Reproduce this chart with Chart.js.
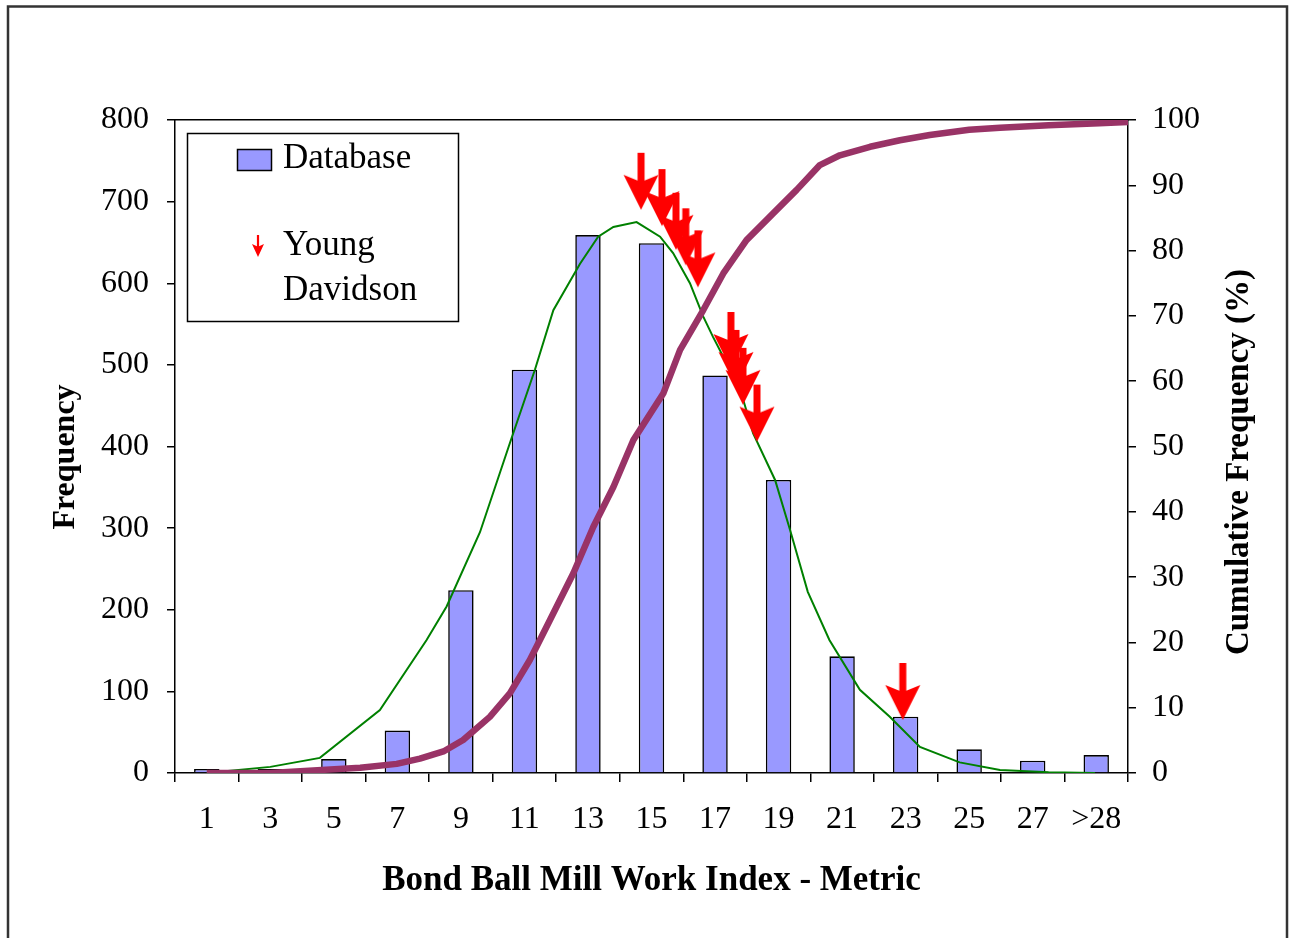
<!DOCTYPE html>
<html>
<head>
<meta charset="utf-8">
<script src="https://cdn.jsdelivr.net/npm/chart.js@4.4.1/dist/chart.umd.min.js"></script>
<style>
  html, body { margin: 0; padding: 0; background: #fff; }
  canvas { display: block; }
</style>
</head>
<body>
<canvas id="chart" width="1292" height="938"></canvas>
<script>
// Histogram classes (Bond ball mill work index, kWh/t) and counts
const categories = ['1', '3', '5', '7', '9', '11', '13', '15', '17', '19', '21', '23', '25', '27', '>28'];
const frequency = [5, 5, 17, 52, 224, 494, 659, 649, 487, 359, 143, 69, 29, 15, 22];

// Fitted distribution curve (work index, frequency)
const fitWI = [1, 3, 4.56, 6.45, 7.92, 8.55, 9.6, 10.54, 11.33, 11.91, 12.75, 13.32, 13.8, 14.53, 15.27, 15.68, 16.21, 16.63, 16.94, 17.47, 17.89, 18.2, 18.89, 19.36, 19.92, 20.6, 21.56, 22.5, 23.45, 24.7, 25.97, 27.5, 28.96];
const fitFreq = [0, 7.5, 18.5, 77, 163, 204, 295, 404, 494, 567, 624, 657, 669, 675, 657, 637, 600, 559, 534, 494, 457, 416, 359, 298, 222, 163, 102, 69, 32, 13, 3.7, 1, 0];

// Cumulative frequency (work index, percent)
const cumWI = [1, 3, 4.35, 5.83, 6.98, 7.71, 8.45, 9.07, 9.91, 10.54, 11.17, 11.8, 12.54, 13.17, 13.8, 14.43, 15.37, 15.9, 16.63, 17.26, 17.99, 18.83, 19.57, 20.3, 20.93, 21.88, 22.82, 23.76, 25, 25.97, 27.5, 29.1, 30];
const cumPct = [0, 0, 0.4, 0.8, 1.4, 2.2, 3.3, 5.05, 8.6, 12.2, 17.3, 23.4, 30.6, 37.7, 43.8, 51, 58.1, 64.8, 70.9, 76.5, 81.6, 85.7, 89.3, 93.1, 94.6, 95.9, 96.9, 97.7, 98.5, 98.8, 99.2, 99.5, 99.7];

// Young Davidson samples (work index, frequency position of arrow tip)
const ydWI = [14.67, 15.33, 15.77, 16.08, 16.46, 17.50, 17.66, 17.88, 18.32, 22.91];
const ydFreq = [690, 670, 641, 622, 595, 495, 473, 451, 406, 65];

const SERIF = "'Liberation Serif', 'Times New Roman', serif";
const BAR_FILL = '#9999FF';
const FIT_COLOR = '#008000';
const CUM_COLOR = '#993366';
const ARROW_COLOR = '#FF0000';

// Down arrow path: tip at (cx, tip)
function arrowPath(ctx, cx, top, tip, shaftW, headW, headH) {
  ctx.beginPath();
  ctx.moveTo(cx - shaftW / 2, top);
  ctx.lineTo(cx + shaftW / 2, top);
  ctx.lineTo(cx + shaftW / 2, tip - headH + 6 * headH / 36);
  ctx.lineTo(cx + headW / 2, tip - headH);
  ctx.lineTo(cx, tip);
  ctx.lineTo(cx - headW / 2, tip - headH);
  ctx.lineTo(cx - shaftW / 2, tip - headH + 6 * headH / 36);
  ctx.closePath();
}

// Point marker image: arrow whose tip sits at the image centre
function makeArrowMarker() {
  const c = document.createElement('canvas');
  c.width = 40;
  c.height = 118;
  const g = c.getContext('2d');
  g.fillStyle = ARROW_COLOR;
  arrowPath(g, 20, 2, 59, 7, 35, 35);
  g.fill();
  return c;
}
const arrowMarker = makeArrowMarker();

// White page with the outer frame
const framePlugin = {
  id: 'frame',
  beforeDraw(chart) {
    const ctx = chart.ctx;
    ctx.save();
    ctx.fillStyle = '#fff';
    ctx.fillRect(0, 0, chart.width, chart.height);
    ctx.strokeStyle = '#333';
    ctx.lineWidth = 2.5;
    ctx.beginPath();
    ctx.moveTo(8, chart.height + 2);
    ctx.lineTo(8, 6.5);
    ctx.lineTo(1287, 6.5);
    ctx.lineTo(1287, chart.height + 2);
    ctx.stroke();
    ctx.restore();
  }
};

// Legend box, left and right axis titles
const annotatePlugin = {
  id: 'annotate',
  afterDraw(chart) {
    const ctx = chart.ctx;
    ctx.save();
    // legend box
    ctx.fillStyle = '#fff';
    ctx.fillRect(187.5, 133.5, 271, 188);
    ctx.strokeStyle = '#000';
    ctx.lineWidth = 1.5;
    ctx.strokeRect(187.5, 133.5, 271, 188);
    // bar swatch
    ctx.fillStyle = BAR_FILL;
    ctx.fillRect(237.5, 149.5, 34, 21);
    ctx.strokeRect(237.5, 149.5, 34, 21);
    // small arrow
    ctx.fillStyle = ARROW_COLOR;
    arrowPath(ctx, 258, 235, 257, 2.2, 12, 13);
    ctx.fill();
    // legend text
    ctx.fillStyle = '#000';
    ctx.font = '35px ' + SERIF;
    ctx.textAlign = 'left';
    ctx.textBaseline = 'alphabetic';
    ctx.fillText(chart.data.datasets[0].label, 283, 168);
    ctx.fillText('Young', 283, 255);
    ctx.fillText('Davidson', 283, 300);

    ctx.textAlign = 'center';
    ctx.textBaseline = 'middle';
    // left axis title
    ctx.save();
    ctx.translate(66, 457);
    ctx.rotate(-Math.PI / 2);
    ctx.font = 'bold 32px ' + SERIF;
    ctx.fillText('Frequency', 0, 0);
    ctx.restore();
    // right axis title, reading bottom to top
    ctx.translate(1239, 462);
    ctx.rotate(-Math.PI / 2);
    ctx.font = 'bold 33px ' + SERIF;
    ctx.fillText('Cumulative Frequency (%)', 0, 0);
    ctx.restore();
  }
};

const toXY = (xs, ys) => xs.map((x, i) => ({ x: x, y: ys[i] }));

const tickFont = { family: SERIF, size: 32 };

new Chart(document.getElementById('chart'), {
  type: 'bar',
  data: {
    labels: categories,
    datasets: [
      {
        label: 'Database',
        type: 'bar',
        data: frequency,
        xAxisID: 'x',
        yAxisID: 'y',
        backgroundColor: BAR_FILL,
        borderColor: '#000',
        borderWidth: 1.6,
        barPercentage: 0.4,
        categoryPercentage: 1,
        grouped: false,
        order: 4
      },
      {
        label: 'Normal fit',
        type: 'line',
        data: toXY(fitWI, fitFreq),
        xAxisID: 'x2',
        yAxisID: 'y',
        borderColor: FIT_COLOR,
        borderWidth: 2,
        pointRadius: 0,
        tension: 0,
        fill: false,
        order: 3
      },
      {
        label: 'Cumulative',
        type: 'line',
        data: toXY(cumWI, cumPct),
        xAxisID: 'x2',
        yAxisID: 'y2',
        borderColor: CUM_COLOR,
        borderWidth: 6.5,
        borderJoinStyle: 'round',
        pointRadius: 0,
        tension: 0,
        fill: false,
        order: 2
      },
      {
        label: 'Young Davidson',
        type: 'scatter',
        data: toXY(ydWI, ydFreq),
        xAxisID: 'x2',
        yAxisID: 'y',
        pointStyle: arrowMarker,
        pointRadius: 20,
        showLine: false,
        clip: false,
        order: 1
      }
    ]
  },
  options: {
    responsive: false,
    animation: false,
    events: [],
    layout: { padding: 0 },
    plugins: {
      legend: { display: false },
      tooltip: { enabled: false },
      title: { display: false }
    },
    scales: {
      x: {
        type: 'category',
        position: 'bottom',
        offset: true,
        grid: { offset: true, drawOnChartArea: false, drawTicks: true, tickLength: 9, color: '#000', lineWidth: 1.5 },
        border: { display: true, color: '#000', width: 1.5 },
        ticks: { color: '#000', font: tickFont, padding: 18, maxRotation: 0, autoSkip: false },
        title: {
          display: true,
          text: 'Bond Ball Mill Work Index - Metric',
          color: '#000',
          font: { family: SERIF, size: 35, weight: 'bold' },
          padding: { top: 0, bottom: 36 }
        },
        afterFit(s) { s.height = 165; }
      },
      x2: {
        type: 'linear',
        position: 'top',
        min: 0,
        max: 30,
        offset: false,
        grid: { display: true, offset: false, drawOnChartArea: false, drawTicks: false, color: '#000' },
        border: { display: true, color: '#000', width: 1.5 },
        ticks: { display: false },
        afterFit(s) { s.height = 120; }
      },
      y: {
        type: 'linear',
        position: 'left',
        min: 0,
        max: 800,
        grid: { drawOnChartArea: false, drawTicks: true, tickLength: 8, color: '#000', lineWidth: 1.5 },
        border: { display: true, color: '#000', width: 1.5 },
        ticks: { stepSize: 100, color: '#000', font: tickFont, padding: 18 },
        afterFit(s) { s.width = 175; }
      },
      y2: {
        type: 'linear',
        position: 'right',
        min: 0,
        max: 100,
        grid: { drawOnChartArea: false, drawTicks: true, tickLength: 8, color: '#000', lineWidth: 1.5 },
        border: { display: true, color: '#000', width: 1.5 },
        ticks: { stepSize: 10, color: '#000', font: tickFont, padding: 16 },
        afterFit(s) { s.width = 164; }
      }
    }
  },
  plugins: [framePlugin, annotatePlugin]
});
</script>
</body>
</html>
